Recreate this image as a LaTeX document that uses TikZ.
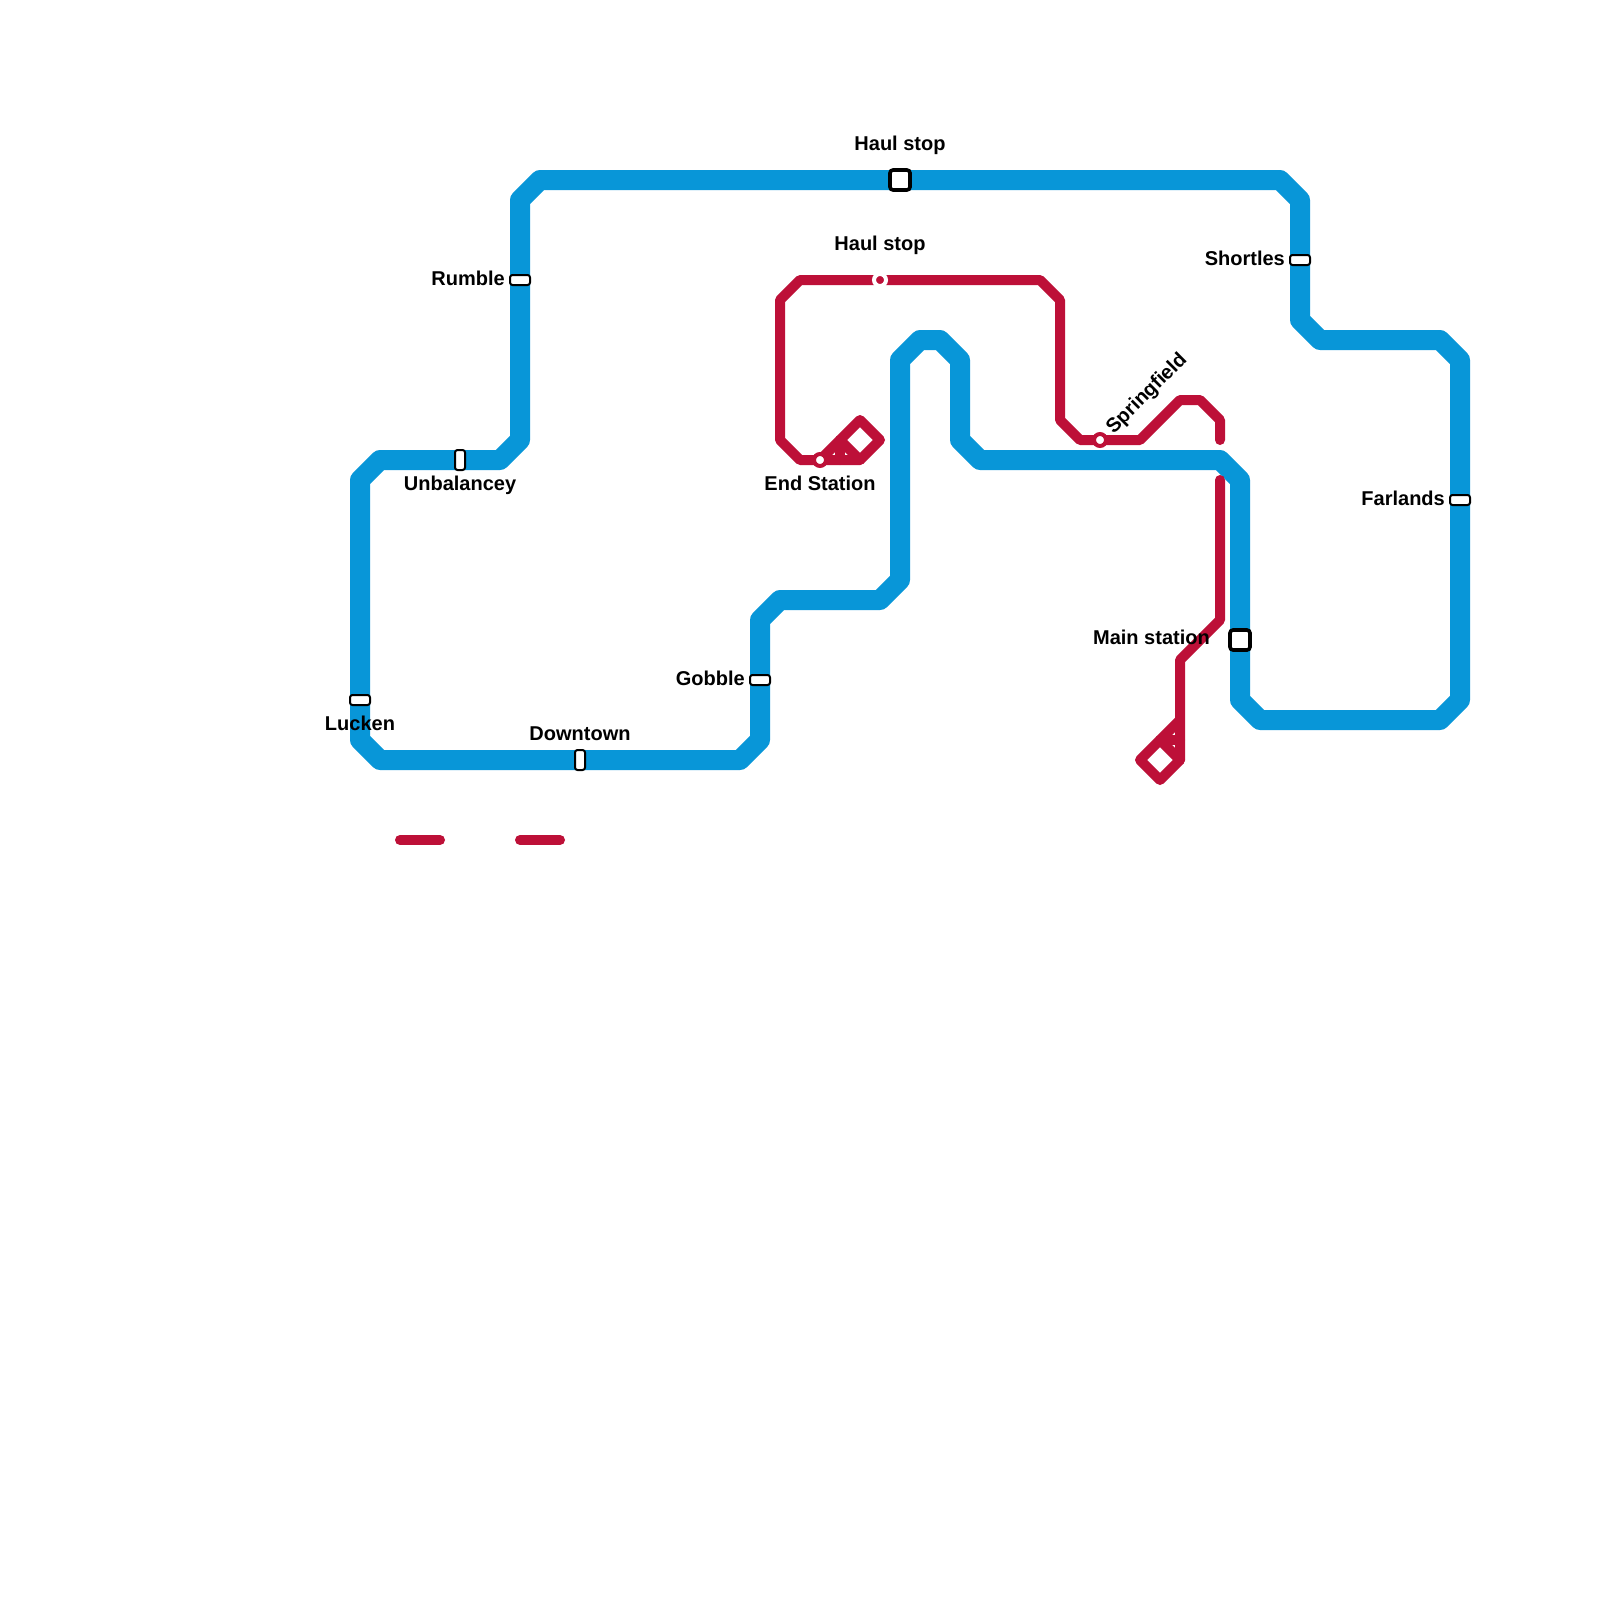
\documentclass[tikz,border=0pt]{standalone}
\usepackage{fontspec}
\setmainfont{Liberation Sans}
\definecolor{lineblue}{HTML}{0896D8}
\definecolor{linered}{HTML}{BD1038}
\tikzset{
  blueline/.style={draw=lineblue,line width=20pt,line join=round,line cap=round},
  redline/.style={draw=linered,line width=10pt,line join=round,line cap=round},
  stopbar/.style={draw=black,fill=white,line width=2pt,rounded corners=2.5pt,inner sep=0pt,outer sep=0pt},
  hstop/.style={stopbar,minimum width=20pt,minimum height=10pt},
  vstop/.style={stopbar,minimum width=10pt,minimum height=20pt},
  mainstop/.style={draw=black,fill=white,line width=3.6pt,rounded corners=3pt,inner sep=0pt,outer sep=0pt,minimum size=20pt},
  ringstop/.style={circle,draw=linered,fill=white,line width=4pt,inner sep=0pt,minimum size=12pt},
  dotstop/.style={circle,draw=white,fill=linered,line width=4pt,inner sep=0pt,minimum size=12pt},
  lab/.style={font=\fontsize{20pt}{22pt}\selectfont\bfseries,inner sep=0pt,text=black}
}
\begin{document}
\begin{tikzpicture}[x=1pt,y=-1pt]
\useasboundingbox (0,0) rectangle (1600,1600);
\fill[white] (0,0) rectangle (1600,1600);
% blue line
\path[blueline] (360,480) -- (380,460) -- (500,460) -- (520,440) -- (520,200) -- (540,180) -- (1280,180) -- (1300,200) -- (1300,320) -- (1320,340) -- (1440,340) -- (1460,360) -- (1460,700) -- (1440,720) -- (1260,720) -- (1240,700) -- (1240,480) -- (1220,460) -- (980,460) -- (960,440) -- (960,360) -- (940,340) -- (920,340) -- (900,360) -- (900,580) -- (880,600) -- (780,600) -- (760,620) -- (760,740) -- (740,760) -- (380,760) -- (360,740) -- cycle;
% red line
\path[redline] (1220,440) -- (1220,420) -- (1200,400) -- (1180,400) -- (1140,440) -- (1080,440) -- (1060,420) -- (1060,300) -- (1040,280) -- (800,280) -- (780,300) -- (780,440) -- (800,460) -- (860,460) -- (880,440) -- (860,420) -- (820,460);
\path[redline] (840,440) -- (860,460);
\path[redline] (840,440) -- (840,460);
\path[redline] (1220,480) -- (1220,620) -- (1180,660) -- (1180,760) -- (1160,780) -- (1140,760) -- (1180,720);
\path[redline] (1160,740) -- (1180,760);
\path[redline] (1160,740) -- (1180,740);
\path[redline] (400,840) -- (440,840);
\path[redline] (520,840) -- (560,840);
% stations
\node[hstop] (rumble) at (520,280) {};
\node[vstop] (unbal) at (460,460) {};
\node[hstop] (lucken) at (360,700) {};
\node[vstop] (downtown) at (580,760) {};
\node[hstop] (gobble) at (760,680) {};
\node[mainstop] (haulb) at (900,180) {};
\node[hstop] (shortles) at (1300,260) {};
\node[hstop] (farlands) at (1460,500) {};
\node[mainstop] (mainst) at (1240,640) {};
\node[dotstop] (haulr) at (880,280) {};
\node[ringstop] (endst) at (820,460) {};
\node[ringstop] (spring) at (1100,440) {};
% labels
\node[lab] (lhaulb) at (900,145) {Haul stop};
\node[lab] (lhaulr) at (880,245) {Haul stop};
\node[lab,anchor=east] (lrumble) at (505,278) {Rumble};
\node[lab] (lunbal) at (460,485) {Unbalancey};
\node[lab] (llucken) at (360,723) {Lucken};
\node[lab] (ldown) at (580,734) {Downtown};
\node[lab,anchor=east] (lgobble) at (745,678) {Gobble};
\node[lab] (lend) at (820,483) {End Station};
\node[lab,anchor=east] (lmain) at (1210,637) {Main station};
\node[lab,anchor=east] (lshort) at (1285,258) {Shortles};
\node[lab,anchor=east] (lfar) at (1445,498) {Farlands};
\node[lab,anchor=west,rotate=45] (lspring) at (1110,431) {Springfield};
\end{tikzpicture}
\end{document}
